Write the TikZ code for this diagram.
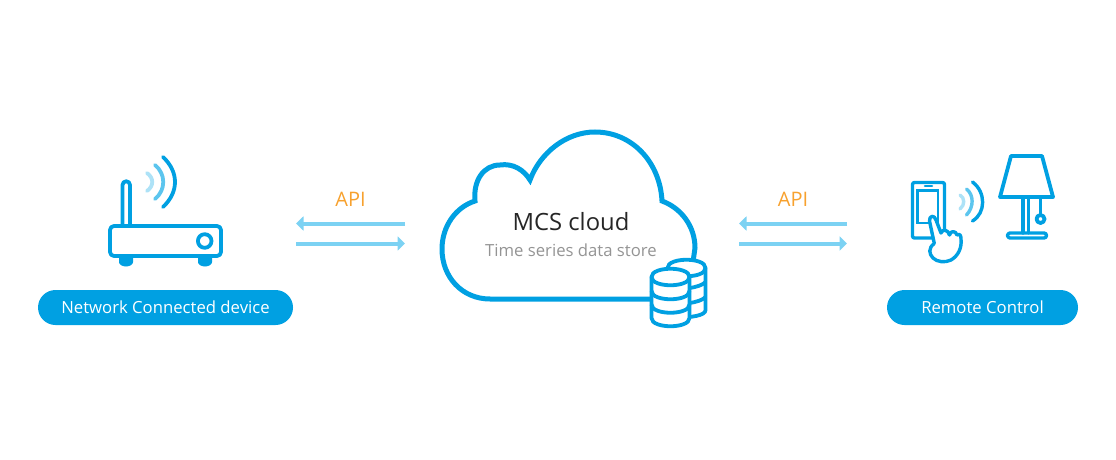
\documentclass[tikz,border=0pt]{standalone}
\usepackage{fontspec}
\setmainfont{Open Sans}
\usetikzlibrary{arrows.meta}
\definecolor{mcsblue}{HTML}{00A0E2}
\definecolor{mcsmid}{HTML}{5CC5EE}
\definecolor{mcspale}{HTML}{ADE2F7}
\definecolor{mcsarrow}{HTML}{7CD2F3}
\definecolor{mcsorange}{HTML}{F7A12E}
\tikzset{
  icon/.style={draw=mcsblue,line width=3.8pt,line cap=round,line join=round},
  thinicon/.style={draw=mcsblue,line width=3.4pt,line cap=round,line join=round},
  wave1/.style={draw=mcsblue,line width=3.8pt,line cap=round},
  wave2/.style={draw=mcsmid,line width=3.8pt,line cap=round},
  wave3/.style={draw=mcspale,line width=3.8pt,line cap=round},
  pill/.style={fill=mcsblue,rounded corners=17.5pt,text=white,minimum height=35pt,inner sep=0pt,font=\fontsize{16.7}{20}\selectfont},
  apilabel/.style={text=mcsorange,inner sep=0pt,font=\fontsize{20}{24}\selectfont},
  flow/.style={draw=mcsarrow,line width=4pt,-{Triangle[width=14pt,length=7.5pt]}}
}
\begin{document}
\begin{tikzpicture}[x=1pt,y=-1pt]
\useasboundingbox (0,0) rectangle (1116,460);
% labels
\node[pill,minimum width=255pt] (devlabel) at (165.5,307.5) {Network Connected device};
\node[pill,minimum width=191pt] (ctrllabel) at (982.5,307.5) {Remote Control};
\node[apilabel] (apil) at (350.5,199) {API};
\node[apilabel] (apir) at (793,199) {API};
% arrows
\coordinate (la) at (405,223.5); \coordinate (lb) at (296,223.5);
\coordinate (lc) at (296,243.5); \coordinate (ld) at (405,243.5);
\coordinate (ra) at (847,223.5); \coordinate (rb) at (739,223.5);
\coordinate (rc) at (739,243.5); \coordinate (rd) at (847,243.5);
\draw[flow] (la) -- (lb);
\draw[flow] (lc) -- (ld);
\draw[flow] (ra) -- (rb);
\draw[flow] (rc) -- (rd);
% router
\draw[icon] (122.5,226) -- (122.5,185) arc[start angle=180,end angle=360,radius=3.75] -- (130,226);
\fill[mcsblue] (119,256) -- (133,256) -- (133,262) arc[start angle=0,end angle=180,x radius=7,y radius=4.5] -- cycle;
\fill[mcsblue] (198,256) -- (212,256) -- (212,262) arc[start angle=0,end angle=180,x radius=7,y radius=4.5] -- cycle;
\draw[icon,fill=white,rounded corners=4pt] (110,226) rectangle (221,256);
\draw[icon] (204.7,241) circle[radius=6.8];
\draw[wave1] (163,157) .. controls (179,172) and (179,192) .. (163,207);
\draw[wave2] (155,165) .. controls (166,174) and (166,190) .. (155,199);
\draw[wave3] (147,173) .. controls (154,178) and (154,186) .. (147,191);
% cloud
\draw[draw=mcsblue,line width=5pt,line join=miter,line cap=butt]
  (660,299) -- (490,299)
  .. controls (462,299) and (442,277) .. (442,249)
  .. controls (442,226) and (456,207) .. (475,201)
  .. controls (473,180) and (484,165) .. (500,165)
  .. controls (513,163) and (524,170) .. (530,180)
  .. controls (540,153) and (566,132) .. (595,132)
  .. controls (632,132) and (660,162) .. (662,201)
  .. controls (681,208) and (695,226) .. (695,248)
  -- (693,262);
\node[inner sep=0pt,text=black!85,font=\fontsize{23.8}{28}\selectfont] (mcs) at (571,222) {MCS cloud};
\node[inner sep=0pt,text=black!42,font=\fontsize{16.7}{20}\selectfont] (tsds) at (571,250) {Time series data store};
% database
\begin{scope}[thinicon,line width=3.8pt]
  \draw[fill=white] (667.5,268) .. controls (667.5,257) and (705.5,257) .. (705.5,268) -- (705.5,310) .. controls (705.5,316) and (690,317) .. (680,318) -- (667.5,300) -- cycle;
  \draw (667.5,268) .. controls (667.5,279) and (705.5,279) .. (705.5,268);
  \draw (690,288) .. controls (696,287) and (703,285) .. (705.5,282);
  \draw (690,303) .. controls (696,302) and (703,300) .. (705.5,297);
  \draw[fill=white] (651.5,277) .. controls (651.5,266) and (689.5,266) .. (689.5,277) -- (689.5,318) .. controls (689.5,329) and (651.5,329) .. (651.5,318) -- cycle;
  \draw (651.5,277) .. controls (651.5,288) and (689.5,288) .. (689.5,277);
  \draw (651.5,291) .. controls (651.5,302) and (689.5,302) .. (689.5,291);
  \draw (651.5,304.5) .. controls (651.5,315.5) and (689.5,315.5) .. (689.5,304.5);
\end{scope}
% phone
\draw[thinicon,rounded corners=2pt] (912.5,182.5) rectangle (944.5,238);
\draw[thinicon,line width=2.6pt] (925,186) -- (932,186);
\draw[thinicon,line width=2.6pt,line cap=butt,line join=miter] (917.5,190.5) rectangle (938,223);
% hand
\draw[thinicon,fill=white] (934.3,243.5)
  -- (929.5,221)
  .. controls (929,215.5) and (934.5,214.5) .. (936,220)
  -- (941,233)
  .. controls (942,229) and (948,229) .. (949.5,235)
  .. controls (950,230.5) and (956,230.5) .. (957,235)
  .. controls (960,233) and (961,236) .. (961,239)
  .. controls (962,248) and (958,256) .. (951,260)
  .. controls (945,263) and (937,262) .. (933,258)
  .. controls (929,254) and (928,248) .. (934.3,243.5);
\draw[wave1,line width=3.4pt] (972.5,182) .. controls (986,192) and (986,213) .. (972.5,221);
\draw[wave2,line width=3.4pt] (966.5,189) .. controls (974,195) and (974,207) .. (966.5,215);
\draw[wave3,line width=3.4pt] (960,195) .. controls (965,198) and (965,205) .. (960,209);
% lamp
\draw[thinicon,line width=3.8pt] (1011,156) -- (1042,156) -- (1053,197) -- (1000,197) -- cycle;
\draw[thinicon] (1023,197) -- (1023,233);
\draw[thinicon] (1028.5,197) -- (1028.5,233);
\draw[thinicon,line cap=butt] (1040.5,197) -- (1040.5,214);
\draw[thinicon,line width=3.8pt] (1040.5,219) circle[radius=4];
\draw[thinicon,rounded corners=2.5pt] (1007.5,233) rectangle (1046.5,238);
\end{tikzpicture}
\end{document}
